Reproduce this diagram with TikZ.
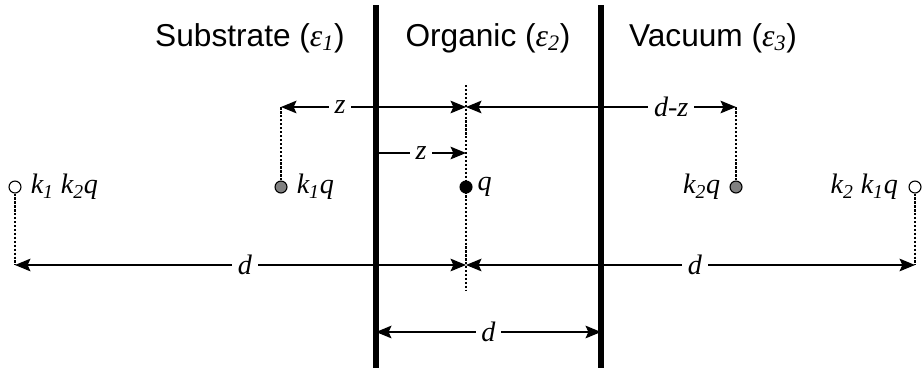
\documentclass[tikz,border=0pt]{standalone}
\usepackage{fontspec}
\setmainfont{Liberation Serif}
\newfontfamily\headfont{Liberation Sans}
\usetikzlibrary{arrows.meta, positioning, calc}

\begin{document}
\begin{tikzpicture}[
            x=0.025cm, y=-0.025cm,
            wall/.style={line width=3.6pt},
            dim/.style={line width=0.9pt},
            tip/.tip={Stealth[length=11pt, width=9pt, inset=2pt]},
            guide/.style={line width=0.9pt, dash pattern=on 1.6pt off 1.2pt},
            charge/.style={circle, draw, line width=0.8pt, minimum size=8.5pt, inner sep=0pt},
            lab/.style={font=\itshape\fontsize{20}{20}\selectfont, inner sep=1pt},
            gap/.style={lab, fill=white, inner xsep=4pt},
            head/.style={font=\headfont\fontsize{22.5}{22.5}\selectfont}
        ]
            \useasboundingbox (0,0) rectangle (922,370);

            % layers
            \draw[wall] (376,5) coordinate (wl1) -- (376,368) coordinate (wl2);
            \draw[wall] (601,5) coordinate (wr1) -- (601,368) coordinate (wr2);
            \node[head] (sub) at (250,38) {Substrate ({\rmfamily\itshape ε\textsubscript{1}})};
            \node[head] (org) at (488,38) {Organic ({\rmfamily\itshape ε\textsubscript{2}})};
            \node[head] (vac) at (713,38) {Vacuum ({\rmfamily\itshape ε\textsubscript{3}})};

            % charge and images
            \node[charge, fill=black] (q) at (466,187) {};
            \node[charge, fill=gray] (k1) at (281,187) {};
            \node[charge, fill=gray] (k2) at (736,187) {};
            \node[charge, fill=white] (k12) at (15,187) {};
            \node[charge, fill=white] (k21) at (915,187) {};

            \node[lab, right=7pt of q.center, anchor=west] (ql) {q};
            \node[lab, right=10pt of k1.center, anchor=west] (k1l) {k\textsubscript{1}q};
            \node[lab, left=10pt of k2.center, anchor=east] (k2l) {k\textsubscript{2}q};
            \node[lab, right=10pt of k12.center, anchor=west] (k12l) {k\textsubscript{1} k\textsubscript{2}q};
            \node[lab, left=11pt of k21.center, anchor=east] (k21l) {k\textsubscript{2} k\textsubscript{1}q};

            % guide lines
            \coordinate (qt) at (466,85);
            \coordinate (qb) at (466,290);
            \coordinate (k1t) at (281,107);
            \coordinate (k2t) at (736,107);
            \coordinate (k12b) at (15,265);
            \coordinate (k21b) at (915,265);
            \draw[guide] (qt) -- (qb);
            \draw[guide] (k1) -- (k1t);
            \draw[guide] (k2) -- (k2t);
            \draw[guide] (k12) -- (k12b);
            \draw[guide] (k21) -- (k21b);

            % distances
            \coordinate (qz) at (466,107);
            \coordinate (qm) at (466,153);
            \coordinate (wm) at (376,153);
            \coordinate (qd) at (466,265);
            \coordinate (wlb) at (376,332);
            \coordinate (wrb) at (601,332);

            \draw[dim, {tip}-{tip}] (k1t) -- node[gap, pos=0.32] (z1) {z} (qz);
            \draw[dim, {tip}-{tip}] (qz) -- node[gap, pos=0.76] (dz) {d-z} (k2t);
            \draw[dim, -{tip}] (wm) -- node[gap, pos=0.5] (z2) {z} (qm);
            \draw[dim, {tip}-{tip}] (k12b) -- node[gap, pos=0.51] (d1) {d} (qd);
            \draw[dim, {tip}-{tip}] (qd) -- node[gap, pos=0.51] (d2) {d} (k21b);
            \draw[dim, {tip}-{tip}] (wlb) -- node[gap, pos=0.5] (d3) {d} (wrb);
        \end{tikzpicture}
\end{document}
